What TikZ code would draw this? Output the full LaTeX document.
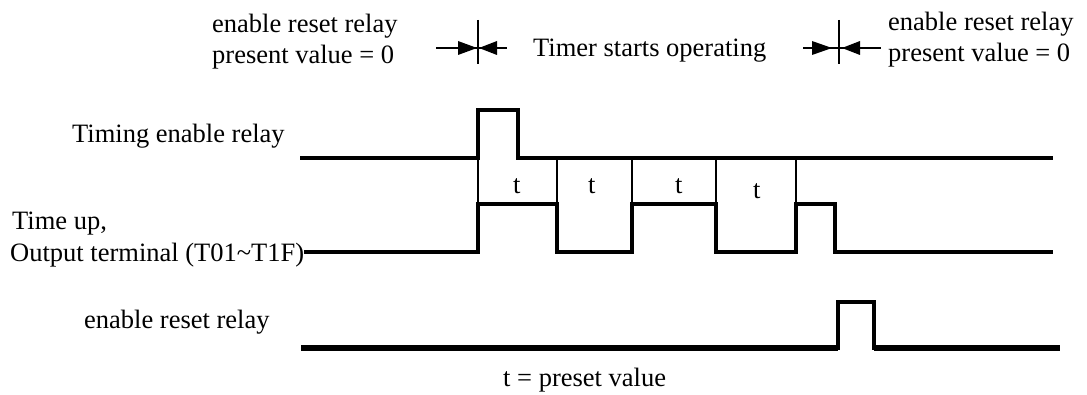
\documentclass[tikz,border=0pt]{standalone}
\usepackage{fontspec}
\setmainfont{Liberation Serif}
\begin{document}
\begin{tikzpicture}[x=1pt,y=-1pt,
  lbl/.style={inner sep=0pt,anchor=base west,font=\fontsize{26.5}{30}\selectfont},
  wave/.style={line width=3.4pt,line join=miter,line cap=butt},
  thickbase/.style={line width=6pt,line cap=butt},
  thin/.style={line width=1.3pt},
  tip/.style={fill=black,draw=none}]
\useasboundingbox (0,0) rectangle (1087,395);
% texts
\node[lbl] (erl1) at (212,33) {enable reset relay};
\node[lbl] (pv1) at (212,64) {present value = 0};
\node[lbl] (tso) at (533,57) {Timer starts operating};
\node[lbl] (erl2) at (888,31) {enable reset relay};
\node[lbl] (pv2) at (888,62) {present value = 0};
\node[lbl] (ter) at (72,143) {Timing enable relay};
\node[lbl] (tup) at (12,230) {Time up,};
\node[lbl] (out) at (10,262) {Output terminal (T01\textasciitilde T1F)};
\node[lbl] (err) at (84,328) {enable reset relay};
\node[lbl] (tpv) at (503,386) {t = preset value};
\node[lbl] (t1) at (513,194) {t};
\node[lbl] (t2) at (588,194) {t};
\node[lbl] (t3) at (675,194) {t};
\node[lbl] (t4) at (753,199) {t};
% markers
\draw[thin] (478,20) -- (478,64);
\draw[thin] (436,48) -- (507,48);
\fill[tip] (458,41) -- (477,48) -- (458,55) -- cycle;
\fill[tip] (497,41) -- (479,48) -- (497,55) -- cycle;
\draw[thin] (839,20) -- (839,64);
\draw[thin] (803,48) -- (881,48);
\fill[tip] (812,41) -- (832,48) -- (812,55) -- cycle;
\fill[tip] (860,41) -- (842,48) -- (860,55) -- cycle;
% thin separators
\foreach \x in {478,557,632,716,796} \draw[thin] (\x,158) -- (\x,204);
% timing enable relay
\draw[wave] (300,158) -- (478,158) -- (478,110) -- (518,110) -- (518,158) -- (1053,158);
% output
\draw[wave] (out.east |- 0,252) -- (478,252) -- (478,204) -- (557,204) -- (557,252) -- (632,252)
  -- (632,204) -- (716,204) -- (716,252) -- (796,252) -- (796,204) -- (835,204)
  -- (835,252) -- (1053,252);
% enable reset relay
\draw[wave] (301,348) -- (838,348) -- (838,302) -- (874,302) -- (874,348) -- (1060,348);
\draw[thickbase] (301,348) -- (838,348);
\draw[thickbase] (874,348) -- (1060,348);
\end{tikzpicture}
\end{document}
